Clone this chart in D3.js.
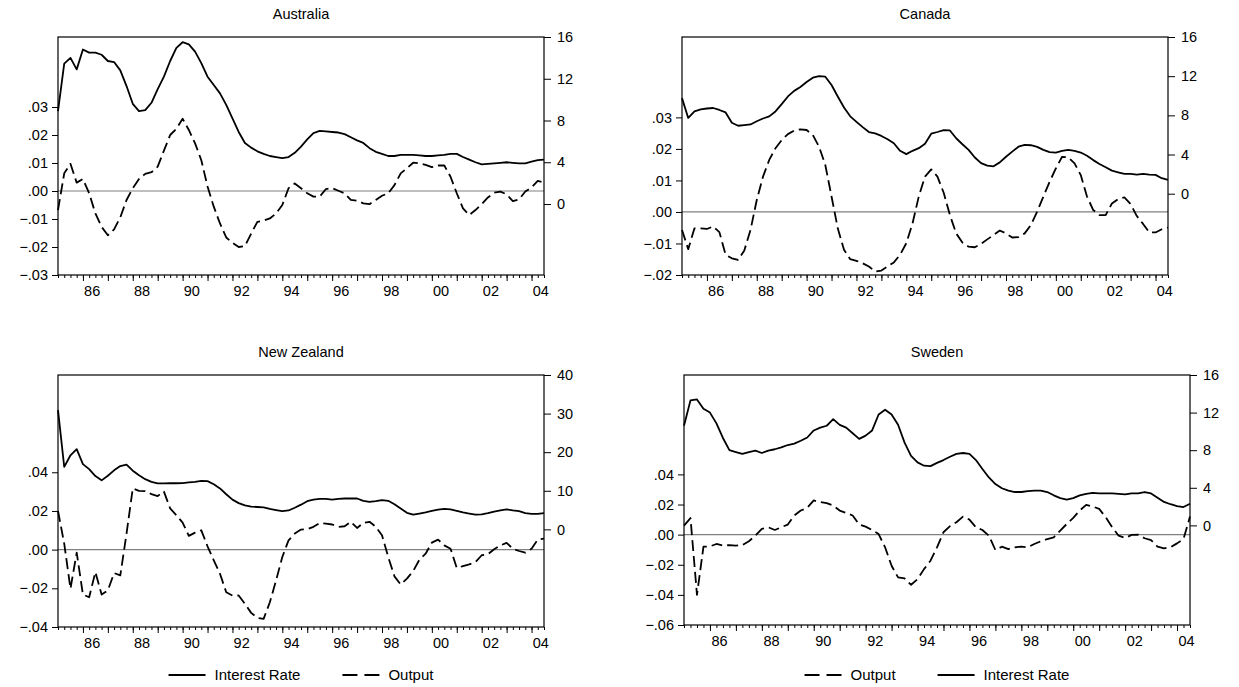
<!DOCTYPE html>
<html>
<head>
<meta charset="utf-8">
<script src="https://cdn.jsdelivr.net/npm/d3@7"></script>
<style>
  body { margin: 0; background: #fff; }
  text { font-family: "Liberation Sans", Arial, sans-serif; fill: #000; }
</style>
</head>
<body>
<svg id="chart" width="1239" height="687"></svg>
<script>
// quarterly observations 1985Q1 .. 2004Q3
var quarters = d3.range(79).map(function(i) { return 1985 + i / 4; });
var majorYears = d3.range(1986, 2005);
var labelYears = d3.range(1986, 2005, 2);

var auRate = [8.9, 13.45, 14.0, 12.9, 14.8, 14.5, 14.5, 14.3, 13.7, 13.6, 12.8, 11.3,
  9.6, 8.9, 9.0, 9.7, 11.0, 12.2, 13.7, 14.95, 15.5, 15.3, 14.6, 13.5,
  12.2, 11.4, 10.6, 9.5, 8.2, 6.9, 5.85, 5.4, 5.05, 4.8, 4.6, 4.5,
  4.4, 4.5, 4.9, 5.5, 6.2, 6.8, 7.0, 6.95, 6.9, 6.85, 6.7, 6.4,
  6.1, 5.85, 5.35, 5.0, 4.8, 4.6, 4.6, 4.7, 4.7, 4.7, 4.65, 4.6,
  4.6, 4.65, 4.7, 4.8, 4.8, 4.5, 4.25, 4.0, 3.8, 3.85, 3.9, 3.95,
  4.0, 3.95, 3.9, 3.9, 4.05, 4.2, 4.25];
var auOutput = [-0.0068, 0.0063, 0.0097, 0.003, 0.0043, -0.0008, -0.008, -0.0128,
  -0.0158, -0.0137, -0.0094, -0.0032, 0.001, 0.0043, 0.0061, 0.0067,
  0.0087, 0.0144, 0.02, 0.0222, 0.0258, 0.0218, 0.017, 0.011,
  0.0016, -0.0056, -0.0116, -0.0166, -0.0185, -0.02, -0.0197, -0.0152,
  -0.011, -0.0106, -0.0098, -0.008, -0.005, 0.001, 0.0027, 0.001,
  -0.0008, -0.002, -0.002, 0.0007, 0.001, 0.0001, -0.0008, -0.0032,
  -0.0035, -0.0044, -0.0047, -0.0032, -0.0017, -0.0008, 0.0021, 0.0063,
  0.0081, 0.0101, 0.0099, 0.0093, 0.0085, 0.0091, 0.0091, 0.0051,
  -0.0008, -0.0062, -0.0086, -0.0068, -0.0047, -0.0023, -0.0006, -0.0002,
  -0.0012, -0.0036, -0.003, -0.0002, 0.0013, 0.0036, 0.0031];

var caRate = [9.76, 7.74, 8.4, 8.6, 8.7, 8.75, 8.55, 8.3, 7.24, 6.94, 7.0, 7.07,
  7.4, 7.68, 7.9, 8.4, 9.15, 9.93, 10.5, 10.9, 11.4, 11.85, 12.0, 11.95,
  11.1, 9.93, 8.8, 7.9, 7.34, 6.8, 6.3, 6.16, 5.9, 5.56, 5.15, 4.38,
  4.04, 4.38, 4.65, 5.1, 6.13, 6.3, 6.5, 6.46, 5.66, 5.05, 4.48, 3.7,
  3.13, 2.86, 2.8, 3.2, 3.77, 4.3, 4.8, 4.98, 4.95, 4.78, 4.48, 4.24,
  4.2, 4.38, 4.48, 4.38, 4.2, 3.87, 3.43, 3.03, 2.7, 2.36, 2.19, 2.02,
  2.02, 1.95, 2.02, 1.95, 1.92, 1.58, 1.41];
var caOutput = [-0.0057, -0.0118, -0.0052, -0.0052, -0.0054, -0.0046, -0.0064, -0.0136,
  -0.0147, -0.0152, -0.0122, -0.0057, 0.0038, 0.0112, 0.0165, 0.0202,
  0.0228, 0.0247, 0.0258, 0.0262, 0.026, 0.0244, 0.0207, 0.0149,
  0.0049, -0.0052, -0.012, -0.015, -0.0155, -0.0163, -0.0173, -0.0189,
  -0.0186, -0.0173, -0.016, -0.0136, -0.0099, -0.0036, 0.0049, 0.0112,
  0.0135, 0.0112, 0.0061, -0.001, -0.0068, -0.0097, -0.011, -0.0112,
  -0.0101, -0.0087, -0.0073, -0.0059, -0.0068, -0.0081, -0.008, -0.0068,
  -0.0041, 0.0001, 0.0049, 0.0096, 0.0138, 0.0175, 0.0173, 0.0154,
  0.0117, 0.0049, 0.0006, -0.001, -0.001, 0.0027, 0.0041, 0.0046,
  0.0025, -0.0013, -0.0038, -0.0065, -0.0065, -0.0055, -0.005];

var nzRate = [30.9, 16.2, 19.2, 20.8, 16.9, 15.6, 13.8, 12.7, 13.9, 15.3, 16.4, 16.8,
  15.2, 14.0, 13.0, 12.3, 11.9, 11.9, 11.95, 11.95, 12.0, 12.2, 12.3, 12.55,
  12.5, 11.7, 10.6, 9.1, 7.7, 6.8, 6.2, 5.9, 5.8, 5.7, 5.3, 5.0,
  4.7, 4.9, 5.6, 6.4, 7.3, 7.7, 7.9, 7.9, 7.7, 7.9, 8.0, 8.05,
  8.0, 7.4, 7.1, 7.3, 7.6, 7.4, 6.5, 5.4, 4.3, 3.8, 4.1, 4.4,
  4.8, 5.1, 5.3, 5.2, 4.8, 4.4, 4.1, 3.8, 3.9, 4.2, 4.6, 4.9,
  5.2, 4.9, 4.7, 4.2, 4.0, 4.0, 4.2];
var nzOutput = [0.02, 0.0031, -0.0202, -0.0016, -0.0232, -0.0246, -0.0116, -0.0232,
  -0.0211, -0.0121, -0.0133, 0.0083, 0.0317, 0.0304, 0.0303, 0.0287,
  0.0277, 0.03, 0.0213, 0.0178, 0.014, 0.0071, 0.0088, 0.01,
  0.0017, -0.0055, -0.0125, -0.022, -0.0237, -0.0237, -0.028, -0.0327,
  -0.0353, -0.0358, -0.0272, -0.0159, -0.0038, 0.0048, 0.0083, 0.0104,
  0.0106, 0.0118, 0.0138, 0.0135, 0.013, 0.0118, 0.0121, 0.0144,
  0.0112, 0.0138, 0.0144, 0.0118, 0.0074, -0.0038, -0.0138, -0.018,
  -0.015, -0.0111, -0.0052, -0.0021, 0.0036, 0.0052, 0.0022, 0.0005,
  -0.0095, -0.0085, -0.0076, -0.0064, -0.0029, -0.0024, 0.0002, 0.0022,
  0.0035, 0.0005, -0.0007, -0.0016, 0.0005, 0.0052, 0.0057];

var seRate = [10.6, 13.3, 13.4, 12.4, 12.0, 10.85, 9.3, 8.0, 7.8, 7.6, 7.8, 7.95,
  7.7, 7.95, 8.1, 8.3, 8.55, 8.7, 9.0, 9.35, 10.1, 10.4, 10.6, 11.3,
  10.7, 10.4, 9.8, 9.2, 9.55, 10.1, 11.8, 12.3, 11.8, 10.7, 8.8, 7.4,
  6.7, 6.35, 6.3, 6.65, 6.95, 7.3, 7.6, 7.7, 7.6, 6.95, 6.0, 5.1,
  4.4, 3.95, 3.7, 3.55, 3.55, 3.65, 3.7, 3.7, 3.55, 3.2, 2.9, 2.75,
  2.9, 3.2, 3.35, 3.45, 3.4, 3.4, 3.4, 3.35, 3.3, 3.4, 3.4, 3.55,
  3.4, 2.95, 2.5, 2.25, 2.05, 1.95, 2.3];
var seOutput = [0.006, 0.011, -0.04, -0.008, -0.0078, -0.0062, -0.0073, -0.0069,
  -0.0073, -0.0069, -0.0044, -0.0007, 0.0038, 0.0049, 0.0031, 0.0049,
  0.0067, 0.0127, 0.016, 0.0178, 0.0227, 0.0216, 0.0209, 0.0193,
  0.016, 0.0144, 0.0127, 0.0067, 0.0053, 0.0031, 0.0004, -0.0084,
  -0.0207, -0.0284, -0.0291, -0.0333, -0.0296, -0.0229, -0.0173, -0.0084,
  0.0016, 0.0056, 0.0082, 0.012, 0.01, 0.0049, 0.0031, -0.0007,
  -0.0102, -0.008, -0.0096, -0.0084, -0.008, -0.0084, -0.0062, -0.0044,
  -0.0029, -0.0018, 0.0027, 0.0071, 0.0111, 0.016, 0.0198, 0.0187,
  0.0171, 0.0116, 0.0049, -0.0007, -0.0022, -0.0002, 0.0, -0.0024,
  -0.0036, -0.008, -0.0091, -0.0084, -0.0058, -0.0029, 0.012];

var panels = [
  { title: "Australia", x0: 58, x1: 544, y0: 37, y1: 275,
    left: [-0.03, 0.055], leftTicks: [-0.03, -0.02, -0.01, 0, 0.01, 0.02, 0.03],
    right: [-6.8, 16], rightTicks: [0, 4, 8, 12, 16],
    rate: auRate, output: auOutput, legend: null },
  { title: "Canada", x0: 682, x1: 1168, y0: 37, y1: 275,
    left: [-0.02, 0.0555], leftTicks: [-0.02, -0.01, 0, 0.01, 0.02, 0.03],
    right: [-8.3, 16], rightTicks: [0, 4, 8, 12, 16],
    rate: caRate, output: caOutput, legend: null },
  { title: "New Zealand", x0: 58, x1: 544, y0: 375, y1: 627,
    left: [-0.04, 0.0903], leftTicks: [-0.04, -0.02, 0, 0.02, 0.04],
    right: [-25.3, 40], rightTicks: [0, 10, 20, 30, 40],
    rate: nzRate, output: nzOutput, legend: ["rate", "output"] },
  { title: "Sweden", x0: 684, x1: 1190, y0: 375, y1: 625,
    left: [-0.06, 0.106], leftTicks: [-0.06, -0.04, -0.02, 0, 0.02, 0.04],
    right: [-10.6, 16], rightTicks: [0, 4, 8, 12, 16],
    rate: seRate, output: seOutput, legend: ["output", "rate"] }
];

var svg = d3.select("#chart");
var fontSize = 14.5;

function leftFormat(v) {
  return d3.format(".2f")(v).replace("0.", ".");
}

function drawPanel(p) {
  var g = svg.append("g");

  var x = d3.scaleLinear().domain([1985, 2004.5]).range([p.x0, p.x1]);
  var yL = d3.scaleLinear().domain(p.left).range([p.y1, p.y0]);
  var yR = d3.scaleLinear().domain(p.right).range([p.y1, p.y0]);

  // zero line of the output axis
  g.append("line")
    .attr("x1", p.x0).attr("x2", p.x1)
    .attr("y1", yL(0)).attr("y2", yL(0))
    .attr("stroke", "#808080").attr("stroke-width", 1.2);

  var rateLine = d3.line()
    .x(function(d, i) { return x(quarters[i]); })
    .y(function(d) { return yR(d); });
  var outLine = d3.line()
    .x(function(d, i) { return x(quarters[i]); })
    .y(function(d) { return yL(d); });

  g.append("path").datum(p.rate)
    .attr("d", rateLine)
    .attr("fill", "none").attr("stroke", "#000").attr("stroke-width", 1.8)
    .attr("stroke-linejoin", "round");

  g.append("path").datum(p.output)
    .attr("d", outLine)
    .attr("fill", "none").attr("stroke", "#000").attr("stroke-width", 1.8)
    .attr("stroke-dasharray", "11,5").attr("stroke-linejoin", "round");

  // frame
  g.append("rect")
    .attr("x", p.x0).attr("y", p.y0)
    .attr("width", p.x1 - p.x0).attr("height", p.y1 - p.y0)
    .attr("fill", "none").attr("stroke", "#000").attr("stroke-width", 1.2);

  var la = g.append("g").attr("transform", "translate(" + p.x0 + ",0)")
    .call(d3.axisLeft(yL).tickValues(p.leftTicks).tickSize(6).tickPadding(4)
      .tickFormat(leftFormat));
  var ra = g.append("g").attr("transform", "translate(" + p.x1 + ",0)")
    .call(d3.axisRight(yR).tickValues(p.rightTicks).tickSize(7).tickPadding(6)
      .tickFormat(d3.format("d")));
  // bottom axis: quarterly minor ticks, yearly major ticks
  var bm = g.append("g").attr("transform", "translate(0," + p.y1 + ")")
    .call(d3.axisBottom(x).tickValues(quarters).tickSize(3).tickFormat(""));
  var bj = g.append("g").attr("transform", "translate(0," + p.y1 + ")")
    .call(d3.axisBottom(x).tickValues(majorYears).tickSize(6).tickFormat(""));

  [la, ra, bm, bj].forEach(function(a) {
    a.select(".domain").remove();
    a.selectAll("line").attr("stroke", "#000");
    a.selectAll("text")
      .attr("font-size", fontSize)
      .attr("font-family", "Liberation Sans, Arial, sans-serif")
      .attr("fill", "#000");
  });

  g.selectAll(".yearlabel").data(labelYears).enter().append("text")
    .attr("class", "yearlabel")
    .attr("x", function(d) { return x(d + 0.37); })
    .attr("y", p.y1 + 21)
    .attr("text-anchor", "middle")
    .attr("font-size", fontSize)
    .text(function(d) { return d3.format("02d")(d % 100); });

  g.append("text")
    .attr("x", (p.x0 + p.x1) / 2)
    .attr("y", p.y0 - 18)
    .attr("text-anchor", "middle")
    .attr("font-size", fontSize)
    .text(p.title);

  if (p.legend) drawLegend(p);
}

function drawLegend(p) {
  var names = { rate: "Interest Rate", output: "Output" };
  var lg = svg.append("g");
  var cy = 675, lineLen = 37, gapText = 9, gapItem = 42;
  var xpos = 0;
  var items = p.legend.map(function(k) {
    var it = lg.append("g");
    it.append("line")
      .attr("x1", 0).attr("x2", lineLen).attr("y1", 0).attr("y2", 0)
      .attr("stroke", "#000").attr("stroke-width", 1.8)
      .attr("stroke-dasharray", k === "output" ? "15,7" : null);
    var t = it.append("text")
      .attr("x", lineLen + gapText).attr("y", 5)
      .attr("font-size", fontSize + 0.5)
      .text(names[k]);
    var item = { g: it, x: xpos };
    xpos += lineLen + gapText + t.node().getComputedTextLength() + gapItem;
    return item;
  });
  var total = xpos - gapItem;
  var start = (p.x0 + p.x1) / 2 - total / 2;
  items.forEach(function(it) {
    it.g.attr("transform", "translate(" + (start + it.x) + "," + cy + ")");
  });
}

panels.forEach(drawPanel);
</script>
</body>
</html>
